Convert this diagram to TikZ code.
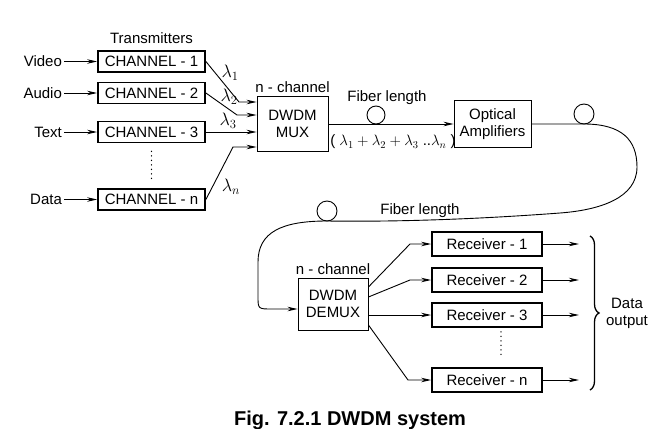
\RequirePackage{fix-cm}
\documentclass[tikz,border=0pt]{standalone}
\usepackage{fontspec}
\setmainfont{Liberation Sans}
\usepackage{tikz}
\usetikzlibrary{arrows.meta, positioning, calc, decorations.pathreplacing}

\begin{document}
\begin{tikzpicture}[
        x=1pt, y=-1pt,
        font=\fontsize{15}{17}\selectfont,
        tx/.style={rectangle, draw=black, line width=1.8pt, minimum width=107pt, minimum height=21pt, inner sep=1pt},
        rx/.style={rectangle, draw=black, line width=1.8pt, minimum width=110pt, minimum height=24pt, inner sep=1pt},
        blk/.style={rectangle, draw=black, line width=0.9pt, align=center, inner sep=1pt},
        lbl/.style={inner sep=2pt},
        lam/.style={inner sep=1pt, font=\fontsize{18}{20}\selectfont},
        sig/.style={-{Stealth[length=10pt, width=4.5pt]}, line width=0.9pt},
        fib/.style={line width=0.9pt},
        cont/.style={line width=1.4pt, line cap=round, dash pattern=on 0pt off 4.5pt},
    ]
        \useasboundingbox (0,0) rectangle (657,429);

        % transmitters
        \node[tx] (ch1) at (151.5,61.5) {CHANNEL - 1};
        \node[tx] (ch2) at (151.5,93) {CHANNEL - 2};
        \node[tx] (ch3) at (151.5,132) {CHANNEL - 3};
        \node[tx] (chn) at (151.5,199.5) {CHANNEL - n};
        \node[lbl, above=4pt of ch1] (trans) {Transmitters};
        \node[lbl, left=33pt of ch1] (video) {Video};
        \node[lbl, left=33pt of ch2] (audio) {Audio};
        \node[lbl, left=33pt of ch3] (txt) {Text};
        \node[lbl, left=33pt of chn] (data) {Data};
        \draw[sig] (video) -- (ch1);
        \draw[sig] (audio) -- (ch2);
        \draw[sig] (txt) -- (ch3);
        \draw[sig] (data) -- (chn);
        \draw[cont] ([yshift=-8pt]ch3.south) -- ([yshift=9pt]chn.north);

        % multiplexer
        \node[blk, minimum width=71pt, minimum height=55pt] (mux) at (292.5,123.5) {DWDM\\MUX};
        \node[lbl, above=1pt of mux] (muxn) {n - channel};
        \coordinate (b1) at (239,102);
        \coordinate (b2) at (237,115);
        \coordinate (bn) at (233,147);
        \draw[sig] (ch1.east) -- (b1) -- (mux.west |- b1);
        \draw[sig] (ch2.east) -- (b2) -- (mux.west |- b2);
        \draw[sig] (ch3.east) -- (mux.west |- ch3);
        \draw[sig] (chn.east) -- (bn) -- (mux.west |- bn);
        \node[lam] (l1) at (230,73) {$\lambda_1$};
        \node[lam] (l2) at (229,97) {$\lambda_2$};
        \node[lam] (l3) at (228,121) {$\lambda_3$};
        \node[lam] (ln) at (231,187) {$\lambda_n$};

        % fibre and amplifier
        \node[blk, minimum width=77pt, minimum height=47pt] (amp) at (492.5,124) {Optical\\Amplifiers};
        \coordinate (la) at (376,124);
        \draw[sig] (mux.east |- amp) -- (amp.west);
        \draw[fib] ([yshift=9pt]la) circle (9pt);
        \node[lbl] (fl1) at (387,98) {Fiber length};
        \node[lbl] (sum) at (393,142) {( $\lambda_1 + \lambda_2 + \lambda_3$ ..$\lambda_n$ )};

        % return fibre to demultiplexer
        \node[blk, minimum width=70pt, minimum height=52pt] (demux) at (333,304) {DWDM\\DEMUX};
        \node[lbl, above=1pt of demux] (demuxn) {n - channel};
        \coordinate (lb) at (584,124);
        \coordinate (tr) at (637,167);
        \coordinate (bk) at (560,213);
        \coordinate (lc) at (327,221);
        \coordinate (dn) at (258,262);
        \coordinate (dv) at (258,296);
        \coordinate (ein) at (272,309);
        \draw[fib] ([yshift=10pt]lb) circle (10pt);
        \draw[fib] ([yshift=10pt]lc) circle (10pt);
        \draw[sig] (amp.east) -- (lb) .. controls (622,124) and (637,140) .. (tr)
            .. controls (637,198) and (600,210) .. (bk)
            .. controls (480,219) and (400,222) .. (lc)
            .. controls (282,221) and (258,232) .. (dn) -- (dv)
            .. controls (258,309) .. (ein) -- (demux.west |- ein);
        \node[lbl] (fl2) at (420,211) {Fiber length};

        % receivers
        \node[rx] (rx1) at (487,244) {Receiver - 1};
        \node[rx] (rx2) at (487,280) {Receiver - 2};
        \node[rx] (rx3) at (487,315) {Receiver - 3};
        \node[rx] (rxn) at (487,380) {Receiver - n};
        \coordinate (c1) at (410,244);
        \coordinate (c2) at (410,280);
        \coordinate (cn) at (408,380);
        \draw[sig] ([yshift=17pt]demux.east) -- (c1) -- (rx1);
        \draw[sig] ([yshift=7pt]demux.east) -- (c2) -- (rx2);
        \draw[sig] (demux.east |- rx3) -- (rx3);
        \draw[sig] ([yshift=-21pt]demux.east) -- (cn) -- (rxn);
        \draw[cont] ([xshift=14pt, yshift=-4pt]rx3.south) -- ([xshift=14pt, yshift=10pt]rxn.north);

        % outputs
        \coordinate[right=36pt of rx1] (o1);
        \coordinate[right=36pt of rx2] (o2);
        \coordinate[right=36pt of rx3] (o3);
        \coordinate[right=36pt of rxn] (on);
        \draw[sig] (rx1) -- (o1);
        \draw[sig] (rx2) -- (o2);
        \draw[sig] (rx3) -- (o3);
        \draw[sig] (rxn) -- (on);
        \coordinate (bt) at (590,236);
        \coordinate (bb) at (590,390);
        \draw[line width=1.3pt, decorate, decoration={brace, amplitude=9pt}] (bt) -- (bb);
        \node[lbl, align=center] (dout) at (627,313) {Data\\output};

        \node[font=\fontsize{20}{22}\selectfont\bfseries, anchor=base] (cap) at (350,425) {Fig. 7.2.1 DWDM system};
    \end{tikzpicture}
\end{document}
